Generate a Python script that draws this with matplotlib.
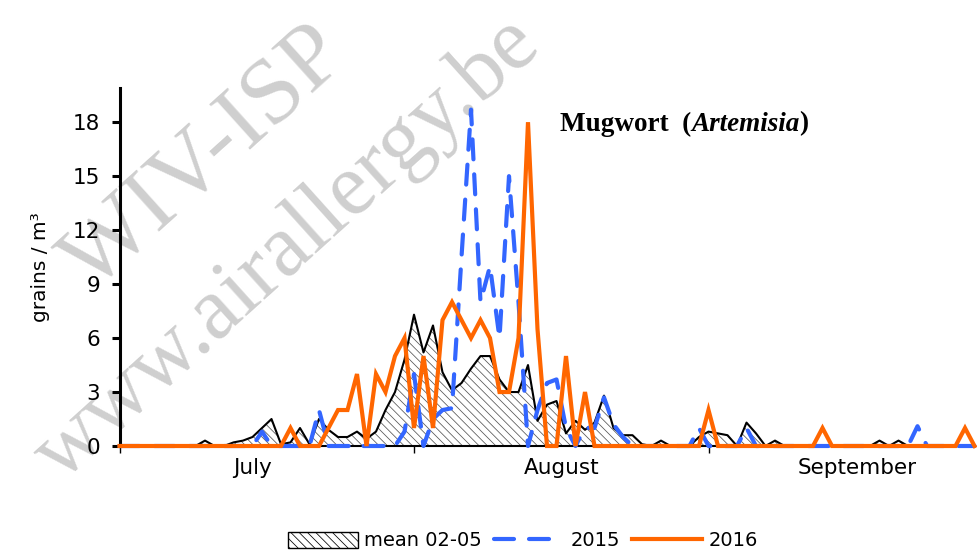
import numpy as np
import matplotlib
matplotlib.use('Agg')
import matplotlib.pyplot as plt
import matplotlib.patches as mpatches
from matplotlib.lines import Line2D

# ---------------- data (day index 0 = 1 July) ----------------
days = list(range(91))

mean_02_05 = [0, 0, 0, 0, 0, 0, 0, 0, 0, 0.3,
              0, 0, 0.2, 0.3, 0.5, 1.0, 1.5, 0.1, 0.2, 1.0,
              0.1, 1.5, 0.9, 0.5, 0.5, 0.8, 0.4, 0.8, 2.0, 3.0,
              4.8, 7.3, 5.2, 6.7, 4.1, 3.1, 3.5, 4.3, 5.0, 5.0,
              3.7, 3.0, 3.0, 4.5, 1.4, 2.3, 2.5, 0.7, 1.4, 0.9,
              1.3, 2.8, 1.0, 0.6, 0.6, 0.1, 0, 0.3, 0, 0,
              0, 0.5, 0.8, 0.7, 0.6, 0, 1.3, 0.7, 0, 0.3,
              0, 0, 0, 0, 0, 0, 0, 0, 0, 0,
              0.3, 0, 0.3, 0, 0, 0, 0, 0, 0, 0,
              0]

y2015 = [0, 0, 0, 0, 0, 0, 0, 0, 0, 0,
         0, 0, 0, 0, 0, 0.8, 0, 0, 0, 0,
         0, 2.0, 0, 0, 0, 0, 0, 0, 0, 0,
         0.8, 4.0, 0, 1.5, 2.0, 2.1, 10.5, 18.7, 8.0, 10.0,
         6.0, 15.0, 8.0, 0, 2.0, 3.5, 3.7, 1.0, 0, 1.0,
         1.0, 2.7, 1.2, 0.5, 0, 0, 0, 0, 0, 0,
         0, 1.0, 0, 0, 0, 0, 1.0, 0, 0, 0,
         0, 0, 0, 0, 0, 0, 0, 0, 0, 0,
         0, 0, 0, 0, 1.1, 0, 0, 0, 0, 0,
         0]

y2016 = [0, 0, 0, 0, 0, 0, 0, 0, 0, 0,
         0, 0, 0, 0, 0, 0, 0, 0, 1, 0,
         0, 0, 1, 2, 2, 4, 0, 4, 3, 5,
         6, 1, 5, 1, 7, 8, 7, 6, 7, 6,
         3, 3, 6, 18, 6.5, 0, 0, 5, 0, 3,
         0, 0, 0, 0, 0, 0, 0, 0, 0, 0,
         0, 0, 2, 0, 0, 0, 0, 0, 0, 0,
         0, 0, 0, 0, 1, 0, 0, 0, 0, 0,
         0, 0, 0, 0, 0, 0, 0, 0, 0, 1,
         0]

month_ticks = [0, 31, 62]
month_labels = ['July', 'August', 'September']
month_label_pos = [14, 46.5, 77.7]
y_ticks = [0, 3, 6, 9, 12, 15, 18]
legend_labels = ['mean 02-05', '2015', '2016']

# ---------------- style ----------------
plt.rcParams['font.family'] = ['DejaVu Sans']
plt.rcParams['hatch.linewidth'] = 0.55

ORANGE = '#FF6600'
BLUE = '#3366FF'
HATCH = '\\\\\\\\'

W, H = 977, 557
fig = plt.figure(figsize=(W / 100, H / 100), dpi=100)
ax = fig.add_axes([119.5 / W, 111 / H, 855 / W, 358 / H])
ax.patch.set_visible(False)

# watermark (behind the axes)
wm_kw = dict(family='Liberation Serif', color='#cfcfcf', ha='center', va='center',
             rotation=42, rotation_mode='anchor', zorder=-5)
fig.text(206 / W, 1 - 160 / H, 'WIV-ISP', fontsize=68, **wm_kw)
fig.text(288 / W, 1 - 250 / H, 'www.airallergy.be', fontsize=64, **wm_kw)

# mean: hatched area
ax.fill_between(days, mean_02_05, 0, facecolor='white', edgecolor='#555555',
                linewidth=0, hatch=HATCH, zorder=1)
ax.plot(days, mean_02_05, color='black', lw=1.5, zorder=2, clip_on=False)
ax.plot(days, y2015, color=BLUE, lw=3, linestyle=(0, (4.8, 3.6)),
        dash_capstyle='round', zorder=3, clip_on=False)
ax.plot(days, y2016, color=ORANGE, lw=3, zorder=4, clip_on=False,
        solid_joinstyle='miter')

ax.set_xlim(0, 90)
ax.set_ylim(0, 19.9)

for s in ['top', 'right']:
    ax.spines[s].set_visible(False)
ax.spines['left'].set_linewidth(2.2)
ax.spines['bottom'].set_linewidth(1.5)

ax.set_yticks(y_ticks)
ax.set_yticklabels([str(v) for v in y_ticks], fontsize=15.5)
ax.tick_params(axis='y', direction='out', length=6, width=2.2, pad=8)

ax.set_xticks(month_ticks)
ax.set_xticklabels(['' for _ in month_ticks])
ax.tick_params(axis='x', which='major', direction='out', length=5, width=1)
ax.set_xticks(month_label_pos, minor=True)
ax.set_xticklabels(month_labels, minor=True, fontsize=15.5)
ax.tick_params(axis='x', which='minor', length=0, pad=9)

ax.set_ylabel('grains / m³', fontsize=14.5, labelpad=16)

# title with italic part
TFS = 19.5
t1 = ax.text((560 - 119.5) / 855, (446 - 124) / 358, 'Mugwort  (', transform=ax.transAxes,
             family='Liberation Serif', weight='bold', fontsize=TFS, ha='left', va='center')
t2 = ax.annotate('Artemisia', xy=(1, 0), xycoords=t1, family='Liberation Serif',
                 weight='bold', style='italic', fontsize=TFS, ha='left', va='bottom')
t3 = ax.annotate(')', xy=(1, 0), xycoords=t2, family='Liberation Serif',
                 weight='bold', fontsize=TFS, ha='left', va='bottom')

# legend
handles = [mpatches.Patch(facecolor='white', edgecolor='black', hatch=HATCH, linewidth=1),
           Line2D([0], [0], color=BLUE, lw=3, linestyle=(0, (4.8, 3.6)), dash_capstyle='round'),
           Line2D([0], [0], color=ORANGE, lw=3)]
fig.legend(handles, legend_labels, loc='center', bbox_to_anchor=(0.535, 1 - 541 / H),
           ncol=3, frameon=False, fontsize=14, handlelength=3.6, handletextpad=0.35,
           columnspacing=0.6, handleheight=0.85)

fig.savefig('out.png', dpi=100)
